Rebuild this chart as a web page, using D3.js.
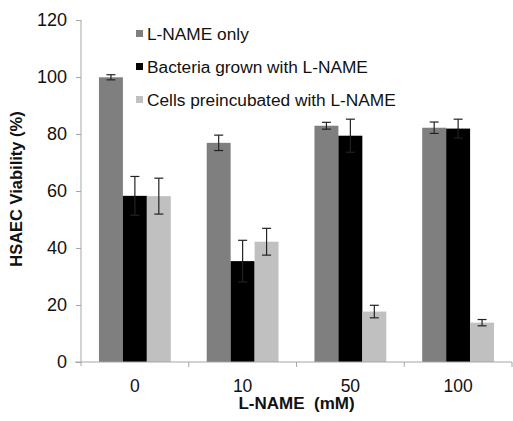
<!DOCTYPE html>
<html><head><meta charset="utf-8">
<script src="https://cdn.jsdelivr.net/npm/d3@7"></script>
<style>body{margin:0;background:#fff}svg{display:block}text{font-family:"Liberation Sans",Arial,sans-serif}</style>
</head><body>
<script>
const categories = ["0", "10", "50", "100"];
const seriesNames = ["L-NAME only", "Bacteria grown with L-NAME", "Cells preincubated with L-NAME"];
const lnameOnly = [99.9, 76.9, 82.9, 82.2];
const lnameOnlyErr = [0.9, 2.7, 1.2, 2.0];
const bacteria = [58.3, 35.4, 79.4, 81.9];
const bacteriaErr = [6.8, 7.3, 5.8, 3.3];
const cells = [58.2, 42.2, 17.7, 13.8];
const cellsErr = [6.3, 4.7, 2.2, 1.1];
const yTicks = [0, 20, 40, 60, 80, 100, 120];
const colors = ["#7f7f7f", "#000000", "#c0c0c0"];

const values = [lnameOnly, bacteria, cells];
const errs = [lnameOnlyErr, bacteriaErr, cellsErr];

const W = 513, H = 421;
const m = {left: 81, right: 1, top: 20, bottom: 59};
const svg = d3.select("body").append("svg").attr("width", W).attr("height", H);

const x0 = d3.scaleBand().domain(categories).range([m.left, W - m.right]).padding(0);
const x1 = d3.scaleBand().domain(d3.range(3)).range([0, x0.bandwidth()]).paddingInner(0).paddingOuter(0.75);
const y = d3.scaleLinear().domain([0, 120]).range([H - m.bottom, m.top]);

const axisColor = "#a6a6a6";

// bars
categories.forEach((c, i) => {
  values.forEach((vals, s) => {
    svg.append("rect")
      .attr("x", x0(c) + x1(s))
      .attr("y", y(vals[i]))
      .attr("width", x1.bandwidth())
      .attr("height", y(0) - y(vals[i]))
      .attr("fill", colors[s]);
  });
});

// error bars
categories.forEach((c, i) => {
  values.forEach((vals, s) => {
    const cx = x0(c) + x1(s) + x1.bandwidth() / 2;
    const hi = y(vals[i] + errs[s][i]), lo = y(vals[i] - errs[s][i]);
    const g = svg.append("g").attr("stroke", "#222").attr("stroke-width", 1.2);
    g.append("line").attr("x1", cx).attr("x2", cx).attr("y1", hi).attr("y2", lo);
    g.append("line").attr("x1", cx - 4.5).attr("x2", cx + 4.5).attr("y1", hi).attr("y2", hi);
    g.append("line").attr("x1", cx - 4.5).attr("x2", cx + 4.5).attr("y1", lo).attr("y2", lo);
  });
});

// y axis
const yAxis = svg.append("g").attr("transform", `translate(${m.left},0)`)
  .call(d3.axisLeft(y).tickValues(yTicks).tickSize(5).tickPadding(9));
yAxis.select(".domain").attr("stroke", axisColor).attr("d", `M0,${m.top}V${y(0) + 4}`);
yAxis.selectAll(".tick line").attr("stroke", axisColor);
yAxis.selectAll(".tick text").attr("font-size", 18).attr("fill", "#111");

// x axis
const xAxis = svg.append("g").attr("transform", `translate(0,${y(0)})`)
  .call(d3.axisBottom(x0).tickSize(0).tickPadding(18));
xAxis.select(".domain").attr("stroke", axisColor).attr("d", `M${m.left - 6},0H${W - m.right}`);
xAxis.selectAll(".tick text").attr("font-size", 17.5).attr("fill", "#111");
const bounds = categories.map(c => x0(c) + x0.bandwidth());
svg.append("g").selectAll("line").data(bounds).join("line")
  .attr("x1", d => d).attr("x2", d => d).attr("y1", y(0)).attr("y2", y(0) + 5)
  .attr("stroke", axisColor);

// axis titles
svg.append("text").attr("x", (m.left + W - m.right) / 2).attr("y", 409)
  .attr("text-anchor", "middle").attr("font-size", 17).attr("font-weight", "bold")
  .attr("fill", "#111").attr("xml:space", "preserve").style("white-space", "pre").text("L-NAME  (mM)");
svg.append("text").attr("transform", "translate(22,189) rotate(-90)")
  .attr("text-anchor", "middle").attr("font-size", 16.5).attr("font-weight", "bold")
  .attr("fill", "#111").text("HSAEC Viability (%)");

// legend
const leg = svg.append("g");
seriesNames.forEach((n, s) => {
  const yy = 34 + s * 33;
  leg.append("rect").attr("x", 136).attr("y", yy - 4).attr("width", 7).attr("height", 7).attr("fill", colors[s]);
  leg.append("text").attr("x", 147).attr("y", yy).attr("dy", "0.35em")
    .attr("font-size", 17.3).attr("fill", "#111").text(n);
});
</script>
</body></html>
